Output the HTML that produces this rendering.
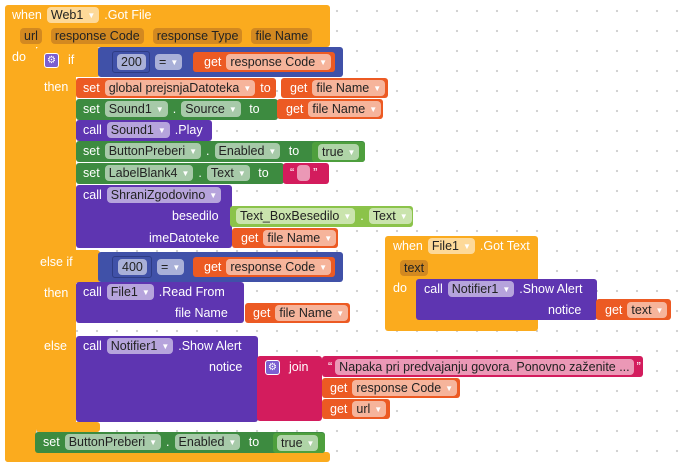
<!DOCTYPE html>
<html><head><meta charset="utf-8"><style>
*{margin:0;padding:0;box-sizing:border-box}
body{width:681px;height:468px;overflow:hidden;background:#fff;background-image:radial-gradient(circle,#cfcfcf 1px,transparent 1.3px);background-size:20px 20px;background-position:7px 1px;font-family:"Liberation Sans",sans-serif;font-size:12.5px;color:#fff;position:relative}
.b{position:absolute;border-radius:3px}
.r{position:absolute;display:flex;align-items:center;height:20px;white-space:nowrap;gap:5px}
.f{background:rgba(255,255,255,.55);color:#222;border-radius:4px;padding:0 4px;height:16px;line-height:16px;display:inline-block}
.f i{font-style:normal;font-size:8px;color:#fff;margin-left:4px;vertical-align:1px}
.ev{background:#fbab1e}
.ctl{background:#fbab1e}
.gr{background:#3d8b40}
.pu{background:#5e35b1}
.og{background:#ec5a23}
.bl{background:#4051a8}
.mg{background:#d31c5d}
.lg{background:#8bc34a}
.tg{background:#4e9f3d}
.par{background:rgba(120,60,40,.3);color:#222;border-radius:4px;padding:0 4px;height:16px;line-height:16px}
.gear{display:inline-block;width:15px;height:15px;background:#7c5fd0;border:1px solid #fff;border-radius:3px;font-size:10px;line-height:13px;text-align:center}
</style></head><body>

<!-- outer event -->
<div class="b ev" style="left:5px;top:5px;width:325px;height:42px"></div>
<div class="b ev" style="left:5px;top:40px;width:31px;height:422px;border-radius:0 0 0 3px"></div>
<div class="b ev" style="left:5px;top:452px;width:325px;height:10px"></div>
<div class="r" style="left:12px;top:5px">when <span class="f">Web1<i>▼</i></span> .Got File</div>
<div class="r" style="left:20px;top:26px;gap:9px"><span class="par">url</span><span class="par">response Code</span><span class="par">response Type</span><span class="par">file Name</span></div>
<div class="r" style="left:12px;top:47px">do</div>

<!-- if block -->
<div class="b ctl" style="left:36px;top:47px;width:64px;height:30px"></div>
<div class="b ctl" style="left:36px;top:47px;width:40px;height:384px"></div>
<div class="b ctl" style="left:36px;top:250px;width:64px;height:33px"></div>
<div class="b ctl" style="left:36px;top:422px;width:64px;height:10px"></div>
<div class="r" style="left:44px;top:50px;gap:9px"><span class="gear">⚙</span>if</div>
<div class="r" style="left:44px;top:77px">then</div>
<div class="r" style="left:40px;top:252px">else if</div>
<div class="r" style="left:44px;top:283px">then</div>
<div class="r" style="left:44px;top:336px">else</div>

<!-- condition 1 -->
<div class="b bl" style="left:98px;top:47px;width:245px;height:30px"></div>
<div class="b" style="left:112px;top:51px;width:38px;height:22px;border:1px solid #2e3c85;background:#4051a8"></div>
<div class="r" style="left:117px;top:52px"><span class="f">200</span></div>
<div class="r" style="left:155px;top:52px"><span class="f">=<i>▼</i></span></div>
<div class="b og" style="left:193px;top:52px;width:142px;height:20px"></div>
<div class="r" style="left:204px;top:52px">get <span class="f">response Code<i>▼</i></span></div>

<!-- then 1 statements -->
<div class="b og" style="left:76px;top:78px;width:200px;height:20px"></div>
<div class="r" style="left:83px;top:78px">set <span class="f">global prejsnjaDatoteka<i>▼</i></span> to</div>
<div class="b og" style="left:281px;top:78px;width:107px;height:20px"></div>
<div class="r" style="left:290px;top:78px">get <span class="f">file Name<i>▼</i></span></div>

<div class="b gr" style="left:76px;top:99px;width:202px;height:21px"></div>
<div class="r" style="left:83px;top:99px">set <span class="f">Sound1<i>▼</i></span> . <span class="f">Source<i>▼</i></span> &nbsp;to</div>
<div class="b og" style="left:277px;top:99px;width:106px;height:20px"></div>
<div class="r" style="left:286px;top:99px">get <span class="f">file Name<i>▼</i></span></div>

<div class="b pu" style="left:76px;top:120px;width:136px;height:21px"></div>
<div class="r" style="left:83px;top:120px">call <span class="f">Sound1<i>▼</i></span>.Play</div>

<div class="b gr" style="left:76px;top:141px;width:289px;height:21px"></div>
<div class="r" style="left:83px;top:141px">set <span class="f">ButtonPreberi<i>▼</i></span> . <span class="f">Enabled<i>▼</i></span> &nbsp;to</div>
<div class="b tg" style="left:312px;top:142px;width:53px;height:20px"></div>
<div class="r" style="left:318px;top:142px"><span class="f">true<i>▼</i></span></div>

<div class="b gr" style="left:76px;top:163px;width:208px;height:21px"></div>
<div class="r" style="left:83px;top:163px">set <span class="f">LabelBlank4<i>▼</i></span> . <span class="f">Text<i>▼</i></span> &nbsp;to</div>
<div class="b mg" style="left:283px;top:163px;width:46px;height:21px"></div>
<div class="r" style="left:290px;top:163px;gap:3px">“<span class="f" style="width:13px"></span>”</div>

<div class="b pu" style="left:76px;top:185px;width:156px;height:63px"></div>
<div class="r" style="left:83px;top:185px">call <span class="f">ShraniZgodovino<i>▼</i></span></div>
<div class="r" style="left:172px;top:206px">besedilo</div>
<div class="b lg" style="left:230px;top:206px;width:183px;height:21px"></div>
<div class="r" style="left:236px;top:206px"><span class="f">Text_BoxBesedilo<i>▼</i></span> . <span class="f">Text<i>▼</i></span></div>
<div class="r" style="left:149px;top:228px">imeDatoteke</div>
<div class="b og" style="left:232px;top:228px;width:106px;height:20px"></div>
<div class="r" style="left:241px;top:228px">get <span class="f">file Name<i>▼</i></span></div>

<!-- condition 2 -->
<div class="b bl" style="left:98px;top:252px;width:245px;height:30px"></div>
<div class="b" style="left:112px;top:256px;width:40px;height:22px;border:1px solid #2e3c85;background:#4051a8"></div>
<div class="r" style="left:118px;top:257px"><span class="f">400</span></div>
<div class="r" style="left:157px;top:257px"><span class="f">=<i>▼</i></span></div>
<div class="b og" style="left:193px;top:257px;width:142px;height:20px"></div>
<div class="r" style="left:204px;top:257px">get <span class="f">response Code<i>▼</i></span></div>

<!-- then 2 -->
<div class="b pu" style="left:76px;top:282px;width:168px;height:41px"></div>
<div class="r" style="left:83px;top:282px">call <span class="f">File1<i>▼</i></span>.Read From</div>
<div class="r" style="left:175px;top:303px">file Name</div>
<div class="b og" style="left:245px;top:303px;width:105px;height:20px"></div>
<div class="r" style="left:253px;top:303px">get <span class="f">file Name<i>▼</i></span></div>

<!-- else -->
<div class="b pu" style="left:76px;top:336px;width:182px;height:86px"></div>
<div class="r" style="left:83px;top:336px">call <span class="f">Notifier1<i>▼</i></span>.Show Alert</div>
<div class="r" style="left:209px;top:357px">notice</div>
<div class="b mg" style="left:257px;top:356px;width:65px;height:65px"></div>
<div class="r" style="left:265px;top:357px;gap:9px"><span class="gear">⚙</span>join</div>
<div class="b mg" style="left:322px;top:356px;width:321px;height:21px"></div>
<div class="r" style="left:328px;top:357px;gap:3px">“<span class="f">Napaka pri predvajanju govora. Ponovno zaženite ...</span>”</div>
<div class="b og" style="left:322px;top:378px;width:138px;height:20px"></div>
<div class="r" style="left:330px;top:378px">get <span class="f">response Code<i>▼</i></span></div>
<div class="b og" style="left:322px;top:399px;width:68px;height:20px"></div>
<div class="r" style="left:330px;top:399px">get <span class="f">url<i>▼</i></span></div>

<!-- final set -->
<div class="b gr" style="left:35px;top:432px;width:290px;height:21px"></div>
<div class="r" style="left:43px;top:432px">set <span class="f">ButtonPreberi<i>▼</i></span> . <span class="f">Enabled<i>▼</i></span> &nbsp;to</div>
<div class="b tg" style="left:273px;top:433px;width:52px;height:20px"></div>
<div class="r" style="left:277px;top:433px"><span class="f">true<i>▼</i></span></div>

<!-- second event -->
<div class="b ev" style="left:385px;top:236px;width:153px;height:95px"></div>
<div class="r" style="left:393px;top:236px">when <span class="f">File1<i>▼</i></span> .Got Text</div>
<div class="r" style="left:400px;top:258px"><span class="par">text</span></div>
<div class="r" style="left:393px;top:278px">do</div>
<div class="b pu" style="left:416px;top:279px;width:181px;height:41px"></div>
<div class="r" style="left:424px;top:279px">call <span class="f">Notifier1<i>▼</i></span>.Show Alert</div>
<div class="r" style="left:548px;top:300px">notice</div>
<div class="b og" style="left:596px;top:299px;width:75px;height:21px"></div>
<div class="r" style="left:605px;top:300px">get <span class="f">text<i>▼</i></span></div>

</body></html>
